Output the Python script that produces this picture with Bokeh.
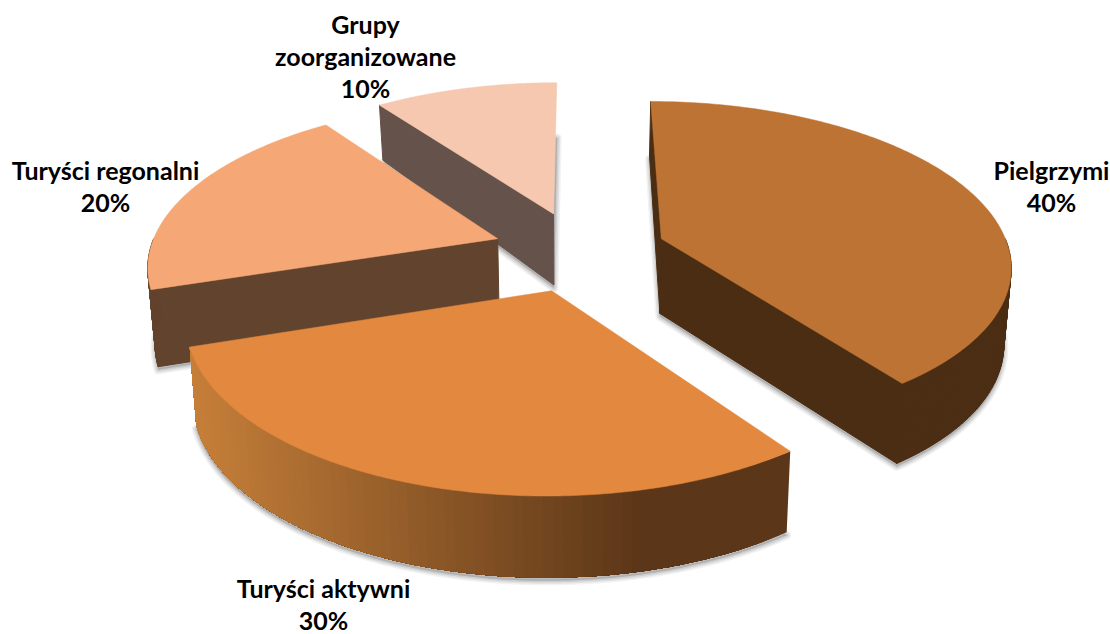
import numpy as np
from bokeh.plotting import figure
from bokeh.models import Range1d, ColumnDataSource
from bokeh.embed import file_html
from bokeh.resources import INLINE
from bokeh.core.properties import value

# ---- chart data ----
categories = ["Pielgrzymi", "Turyści aktywni", "Turyści regonalni", "Grupy\nzoorganizowane"]
values = [40, 30, 20, 10]

# ---- styles ----
top_colors = ["#bd7333", "#e2883f", "#f5a876", "#f6c8b0"]
wall_colors = ["#4b2d14", "#5c3719", "#62432e", "#65524a"]
grad_left, grad_right = np.array([0xc6, 0x7f, 0x39]), np.array([0x5b, 0x36, 0x18])
label_x = [1051, 323, 105, 365]
label_y = [169, 587, 169, 23]
line_h = 32
# which radial walls of each slice can be seen: (start edge, end edge)
radial_visible = [(True, True), (False, False), (True, False), (True, False)]

# ---- projection of the exploded 3D pie onto page pixels ----
CX, CY, RX, RY, K, EXPLODE, SHRINK = 579.0, 250.5, 348.0, 161.2, 0.15, 0.25, 0.983
DV = [-1.25, -1.05, -0.24, -0.07, 0.23, 0.73, 1.05, 1.3]
DD = [52, 55, 71, 75, 77, 80, 81, 82]


def top(u, v):
    s = 1 / (1 - K * v)
    return CX + RX * u * s, CY + RY * v * s


def bottom(u, v):
    x, y = top(u, v)
    return CX + (x - CX) * SHRINK, y + np.interp(v, DV, DD)


p = figure(width=1110, height=634, output_backend="svg", toolbar_location=None,
           x_range=Range1d(0, 1110), y_range=Range1d(634, 0),
           x_axis_location=None, y_axis_location=None, min_border=0,
           outline_line_color=None, background_fill_color="white")
p.grid.visible = False

total = sum(values)
edges = np.cumsum([0] + values) / total * 2 * np.pi
order = [3, 2, 0, 1]

for i in order:
    a0, a1 = edges[i], edges[i + 1]
    mid = (a0 + a1) / 2
    au, av = EXPLODE * np.sin(mid), -EXPLODE * np.cos(mid)
    th = np.linspace(a0, a1, 161)
    ru, rv = au + np.sin(th), av - np.cos(th)

    tx, ty = top(ru, rv)
    bx, by = bottom(ru, rv)
    atx, aty = top(au, av)
    abx, aby = bottom(au, av)

    # soft shadow below the slice's base
    sx = np.r_[abx, bx]
    sy = np.r_[aby, by] + 3
    for w, al in [(9, 0.10), (6, 0.14), (3, 0.2)]:
        p.patch(sx, sy, fill_color="#808080", fill_alpha=al, line_color="#808080",
                line_alpha=al, line_width=w, line_join="round")

    # radial walls
    for k, seen in zip((0, -1), radial_visible[i]):
        if seen:
            p.patch([atx, tx[k], bx[k], abx], [aty, ty[k], by[k], aby],
                    fill_color=wall_colors[i], line_color=wall_colors[i], line_width=1.0)

    # rim wall: only the part facing the viewer
    front = np.where((th >= np.pi / 2) & (th <= 3 * np.pi / 2))[0]
    if len(front) > 1:
        ftx, fty, fbx, fby = tx[front], ty[front], bx[front], by[front]
        if i == 1:
            step = 2
            xs, ys, cols = [], [], []
            for j in range(0, len(front) - step, step):
                xs.append(np.r_[ftx[j:], fbx[j:][::-1]].tolist())
                ys.append(np.r_[fty[j:], fby[j:][::-1]].tolist())
                t = np.clip(((ftx[j] + ftx[j + step]) / 2 - 190) / (640 - 190), 0, 1)
                c = grad_right + (grad_left - grad_right) * (1 - t)
                cols.append("#%02x%02x%02x" % tuple(int(round(q)) for q in c))
            src = ColumnDataSource(dict(xs=xs, ys=ys, c=cols))
            p.patches("xs", "ys", source=src, fill_color="c", line_color=None)
        else:
            n = len(front) - 1
            xs = [[ftx[j], ftx[j + 1], fbx[j + 1], fbx[j]] for j in range(n)]
            ys = [[fty[j], fty[j + 1], fby[j + 1], fby[j]] for j in range(n)]
            p.patches(xs, ys, fill_color=wall_colors[i], line_color=wall_colors[i], line_width=1.0)

    # top face
    p.patch(np.r_[atx, tx], np.r_[aty, ty], fill_color=top_colors[i],
            line_color=top_colors[i], line_width=0.5)

# labels
for name, v, lx, ly in zip(categories, values, label_x, label_y):
    lines = name.split("\n") + [f"{v}%"]
    p.text([lx] * len(lines), [ly + n * line_h for n in range(len(lines))], text=lines,
           text_font=value("Lato"), text_font_style="bold", text_font_size="25px",
           text_color="#000000", text_align="center", text_baseline="middle")

open("out.html", "w").write(file_html(p, INLINE))
